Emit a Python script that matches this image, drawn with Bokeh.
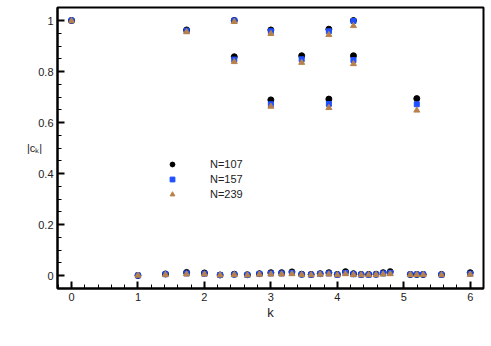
from bokeh.plotting import figure
from bokeh.models import (Range1d, SingleIntervalTicker, CustomJSTickFormatter, Legend,
                          LegendItem, ColumnDataSource)
from bokeh.embed import file_html
from bokeh.resources import INLINE

# ---- data ----
k_vals = [0.0, 1.732, 2.449, 2.449, 3.0, 3.0, 3.464, 3.873, 3.873, 4.243, 4.243, 5.196,
          1.0, 1.414, 1.732, 2.0, 2.236, 2.449, 2.646, 2.828, 3.0, 3.162, 3.317, 3.464,
          3.606, 3.742, 3.873, 4.0, 4.123, 4.243, 4.359, 4.472, 4.583, 4.690, 4.796,
          5.099, 5.196, 5.292, 5.568, 6.0]

ck_107 = [1.0, 0.963, 1.0, 0.858, 0.963, 0.689, 0.862, 0.966, 0.692, 1.0, 0.862, 0.694,
          0.001, 0.007, 0.013, 0.011, 0.003, 0.006, 0.004, 0.008, 0.012, 0.012, 0.015, 0.006,
          0.005, 0.008, 0.012, 0.005, 0.016, 0.008, 0.005, 0.005, 0.006, 0.012, 0.016,
          0.005, 0.005, 0.005, 0.005, 0.012]
ck_157 = [1.0, 0.960, 1.0, 0.847, 0.958, 0.672, 0.848, 0.958, 0.673, 0.998, 0.845, 0.672,
          0.001, 0.006, 0.009, 0.008, 0.003, 0.005, 0.003, 0.007, 0.009, 0.009, 0.011, 0.005,
          0.004, 0.007, 0.009, 0.004, 0.011, 0.006, 0.004, 0.004, 0.005, 0.009, 0.011,
          0.005, 0.005, 0.005, 0.004, 0.008]
ck_239 = [0.998, 0.955, 0.995, 0.838, 0.948, 0.663, 0.835, 0.944, 0.658, 0.979, 0.830, 0.648,
          0.001, 0.004, 0.006, 0.006, 0.002, 0.004, 0.002, 0.005, 0.006, 0.006, 0.007, 0.004,
          0.003, 0.005, 0.006, 0.003, 0.007, 0.004, 0.003, 0.003, 0.004, 0.006, 0.007,
          0.004, 0.004, 0.004, 0.003, 0.005]

series_labels = ["N=107", "N=157", "N=239"]
x_label = "k"
y_label = "|c\u2096|"

# ---- figure ----
p = figure(width=488, height=338, output_backend="svg", toolbar_location=None,
           x_range=Range1d(-0.211, 6.2), y_range=Range1d(-0.05, 1.051),
           min_border_left=57, min_border_right=5, min_border_top=7, min_border_bottom=50)
p.background_fill_color = "white"
p.border_fill_color = "white"
p.grid.visible = False
p.outline_line_color = "black"
p.outline_line_width = 2

src = ColumnDataSource(dict(k=k_vals, a=ck_107, b=ck_157, c=ck_239))
r1 = p.scatter("k", "a", source=src, marker="circle", size=6, color="black")
r2 = p.scatter("k", "b", source=src, marker="square", size=5, color="#1f4fff")
r3 = p.scatter("k", "c", source=src, marker="triangle", size=6, color="#b8824a")

for ax in (p.xaxis[0], p.yaxis[0]):
    ax.axis_line_color = "black"
    ax.axis_line_width = 2
    ax.major_tick_in = 7
    ax.major_tick_out = 0
    ax.minor_tick_in = 4
    ax.minor_tick_out = 0
    ax.major_tick_line_width = 2
    ax.minor_tick_line_width = 1
    ax.major_tick_line_color = "black"
    ax.minor_tick_line_color = "black"
    ax.major_label_text_font = "Liberation Sans"
    ax.major_label_text_font_size = "11px"
    ax.major_label_text_color = "#222222"
    ax.axis_label_text_font = "Liberation Sans"
    ax.axis_label_text_font_style = "normal"
    ax.axis_label_text_color = "#222222"

p.xaxis.ticker = SingleIntervalTicker(interval=1, num_minor_ticks=5)
p.yaxis.ticker = SingleIntervalTicker(interval=0.2, num_minor_ticks=4)
p.yaxis.formatter = CustomJSTickFormatter(code="return String(Math.round(tick*10)/10);")
p.xaxis.major_label_standoff = 4
p.yaxis.major_label_standoff = 4
p.xaxis.axis_label = x_label
p.xaxis.axis_label_text_font_size = "13px"
p.xaxis.axis_label_standoff = 1
p.yaxis.axis_label = y_label
p.yaxis.axis_label_orientation = "horizontal"
p.yaxis.axis_label_text_font_size = "11px"
p.yaxis.axis_label_standoff = -7

legend = Legend(items=[LegendItem(label=series_labels[0], renderers=[r1]),
                       LegendItem(label=series_labels[1], renderers=[r2]),
                       LegendItem(label=series_labels[2], renderers=[r3])],
                location=(109, 88), glyph_width=12, glyph_height=12, label_height=12,
                spacing=3, padding=0, margin=0, label_standoff=32,
                label_text_font="Liberation Sans", label_text_font_size="11px",
                label_text_color="#222222",
                border_line_color=None, background_fill_alpha=0)
p.add_layout(legend)

open("out.html", "w").write(file_html(p, INLINE))
